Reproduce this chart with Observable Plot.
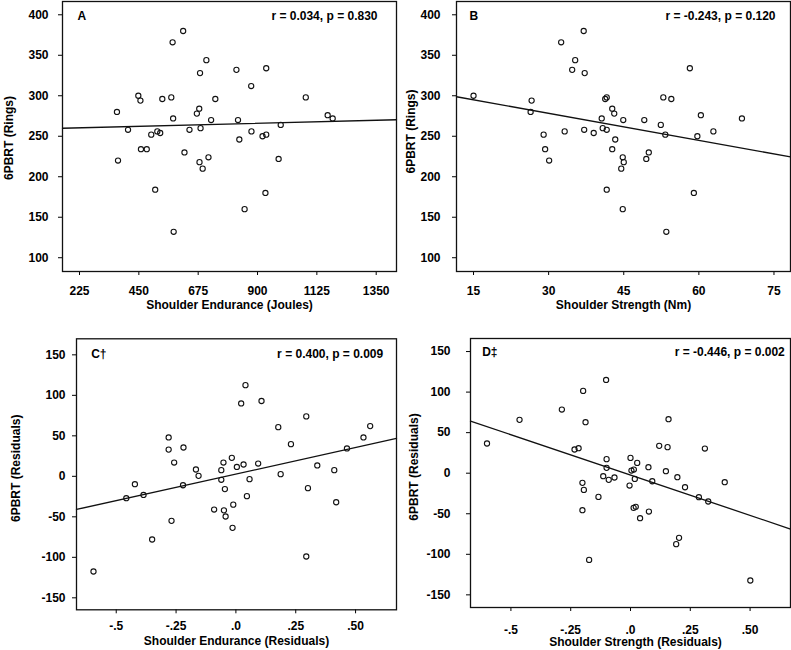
<!DOCTYPE html>
<html>
<head>
<meta charset="utf-8">
<script src="https://cdn.jsdelivr.net/npm/d3@7"></script>
<script src="https://cdn.jsdelivr.net/npm/@observablehq/plot@0.6"></script>
<style>
  html, body { margin: 0; padding: 0; background: white; overflow: hidden; }
  #wrap { position: relative; width: 791px; height: 650px; background: white; }
  #wrap > svg { position: absolute; left: 0; top: 0; }
</style>
</head>
<body>
<div id="wrap"></div>
<script>
// ---- Panel A: Shoulder Endurance (Joules) vs 6PBRT (Rings)
const enduranceJoules = [367,371,409,448,456,458,480,497,512,520,531,539,573,578,580,582,618,623,642,670,679,680,682,684,692,706,714,724,740,820,826,831,851,876,877,919,930,933,933,980,988,1083,1166,1185];
const ringsA          = [280,220,258,300,294,234,234,252,184,256,254,296,298,366,272,132,380,230,258,278,284,218,328,260,210,344,224,270,296,332,270,246,160,312,256,250,180,334,252,222,264,298,276,272];

// ---- Panel B: Shoulder Strength (Nm) vs 6PBRT (Rings)
const strengthNm = [15,26.4,26.6,29,29.3,30.1,32.5,33.2,34.7,35.3,37,37.1,37.2,39,40.6,40.8,41.3,41.6,41.6,41.6,42.7,42.7,43.1,43.3,44.5,44.8,44.8,44.9,45,49.1,49.5,50,52.4,52.9,53.3,53.5,54.5,58.2,59,59.7,60.4,62.9,68.6];
const ringsB     = [300,280,294,252,234,220,366,256,332,344,380,258,328,254,272,260,296,298,258,184,284,234,278,246,210,224,160,270,218,270,222,230,264,298,252,132,296,334,180,250,276,256,272];

// ---- Panel C: Shoulder Endurance (Residuals) vs 6PBRT (Residuals)
const enduranceResid = [-0.595,-0.458,-0.422,-0.386,-0.350,-0.281,-0.281,-0.269,-0.258,-0.221,-0.219,-0.167,-0.156,-0.091,-0.061,-0.061,-0.052,-0.050,-0.046,-0.043,-0.017,-0.014,-0.011,0.004,0.022,0.032,0.040,0.046,0.057,0.093,0.107,0.177,0.187,0.230,0.294,0.294,0.301,0.340,0.411,0.419,0.464,0.533,0.561];
const residC         = [-117.5,-27,-9.7,-23,-78,48,33,-55,17,-11,35.6,8.4,0.6,-41,7.6,-4.3,17,-42,-15.8,-49.6,22.8,-63.6,-35,11.6,90,14.6,112.6,-24.5,-3.5,15.8,93,60.7,2.7,39.7,74,-99,-14.6,13.4,7.6,-32,34.4,48,62];

// ---- Panel D: Shoulder Strength (Residuals) vs 6PBRT (Residuals)
const strengthResid = [-0.600,-0.464,-0.287,-0.234,-0.217,-0.198,-0.201,-0.195,-0.201,-0.188,-0.173,-0.134,-0.114,-0.102,-0.100,-0.100,-0.091,-0.067,-0.004,0.000,0.004,0.014,0.013,0.018,0.022,0.028,0.040,0.075,0.077,0.091,0.120,0.148,0.155,0.159,0.196,0.191,0.203,0.228,0.286,0.311,0.325,0.394,0.501];
const residD        = [36.6,65.8,78.5,29.2,30.8,101.5,-11.9,-20.6,-45.6,62.9,-106.9,-29.2,-3.7,115,17.3,6.6,-8.2,-5.3,-15.2,18.9,3.3,4.5,-42.7,-7.0,-41.5,12.7,-55.5,7.4,-47.3,-9.9,33.7,2.5,32.1,66.6,-4.9,-87.5,-79.7,-17.3,-29.6,30.4,-34.9,-11.1,-132.3];

// ---- Tick values / labels
const ringsTicks      = [100,150,200,250,300,350,400];
const joulesTicks     = [225,450,675,900,1125,1350];
const nmTicks         = [15,30,45,60,75];
const residYTicks     = [-150,-100,-50,0,50,100,150];
const residXTicks     = [-0.5,-0.25,0,0.25,0.5];
const residXLabels    = ["-.5","-.25",".0",".25",".50"];

// ---- Texts
const panelLetters = ["A","B","C\u2020","D\u2021"];
const statTexts    = ["r = 0.034, p = 0.830","r = -0.243, p = 0.120","r = 0.400, p = 0.009","r = -0.446, p = 0.002"];
const xTitles      = ["Shoulder Endurance (Joules)","Shoulder Strength (Nm)","Shoulder Endurance (Residuals)","Shoulder Strength (Residuals)"];
const yTitles      = ["6PBRT (Rings)","6PBRT (Rings)","6PBRT (Residuals)","6PBRT (Residuals)"];

const FONT = "'Liberation Sans', Arial, Helvetica, sans-serif";
const W = 791, H = 650;

function fit(xs, ys) {
  const mx = d3.mean(xs), my = d3.mean(ys);
  let sxy = 0, sxx = 0;
  for (let i = 0; i < xs.length; i++) { sxy += (xs[i]-mx)*(ys[i]-my); sxx += (xs[i]-mx)**2; }
  const b = sxy / sxx;
  return {a: my - b*mx, b};
}

function panel(p) {
  const pts = p.xs.map((x, i) => ({x, y: p.ys[i]}));
  const {a, b} = fit(p.xs, p.ys);
  const lineData = p.xDomain.map(x => ({x, y: a + b*x}));
  return Plot.plot({
    width: W, height: H,
    marginLeft: p.frame[0], marginTop: p.frame[1],
    marginRight: W - p.frame[2], marginBottom: H - p.frame[3],
    style: {fontFamily: FONT, fontSize: "12px", fontWeight: "bold", color: "black", background: "transparent", overflow: "visible"},
    x: {domain: p.xDomain, ticks: p.xTicks, tickFormat: p.xFormat, tickSize: 4, tickPadding: p.xPad, label: null},
    y: {domain: p.yDomain, ticks: p.yTicks, tickFormat: d => String(d), tickSize: 4, tickPadding: p.yPad, label: null},
    marks: [
      Plot.frame({stroke: "#111", strokeWidth: 1.3}),
      Plot.line(lineData, {x: "x", y: "y", stroke: "#111", strokeWidth: 1.3}),
      Plot.dot(pts, {x: "x", y: "y", r: 2.6, stroke: "#111", strokeWidth: 1.1, fill: "none"}),
      Plot.text([p.letter], {frameAnchor: "top-left", textAnchor: "start", lineAnchor: "middle", dx: p.letterOff[0], dy: p.letterOff[1], fontSize: 12, fontWeight: "bold", fill: "black"}),
      Plot.text([p.stat], {frameAnchor: "top-right", textAnchor: "end", lineAnchor: "middle", dx: p.statOff[0], dy: p.statOff[1], fontSize: 12, fontWeight: "bold", fill: "black"}),
      Plot.text([p.xTitle], {frameAnchor: "bottom", textAnchor: "middle", lineAnchor: "middle", dx: p.xTitleOff[0], dy: p.xTitleOff[1], fontSize: 12, fontWeight: "bold", fill: "black"}),
      Plot.text([p.yTitle], {frameAnchor: "left", textAnchor: "middle", lineAnchor: "middle", rotate: -90, dx: p.yTitleOff[0], dy: p.yTitleOff[1], fontSize: 12, fontWeight: "bold", fill: "black"})
    ]
  });
}

const wrap = document.getElementById("wrap");
const plainFmt = d => String(d);
const residFmt = d => residXLabels[residXTicks.indexOf(d)];

const panels = [
  {xs: enduranceJoules, ys: ringsA, frame: [62, 1, 396, 271], xDomain: [160.5, 1427], yDomain: [83, 416.4],
   xTicks: joulesTicks, xFormat: plainFmt, yTicks: ringsTicks, xPad: 11, yPad: 10,
   letter: panelLetters[0], stat: statTexts[0], xTitle: xTitles[0], yTitle: yTitles[0],
   letterOff: [15, 15], statOff: [-19, 14.5], xTitleOff: [0, 33.5], yTitleOff: [-53, 1.5]},
  {xs: strengthNm, ys: ringsB, frame: [456, 1, 790, 271], xDomain: [11.6, 78.3], yDomain: [83, 416.4],
   xTicks: nmTicks, xFormat: plainFmt, yTicks: ringsTicks, xPad: 11, yPad: 12,
   letter: panelLetters[1], stat: statTexts[1], xTitle: xTitles[1], yTitle: yTitles[1],
   letterOff: [13, 15], statOff: [-15, 14.5], xTitleOff: [0, 33.5], yTitleOff: [-45, -5]},
  {xs: enduranceResid, ys: residC, frame: [76, 338.3, 396, 609.3], xDomain: [-0.666, 0.671], yDomain: [-164.8, 169.8],
   xTicks: residXTicks, xFormat: residFmt, yTicks: residYTicks, xPad: 7.5, yPad: 7,
   letter: panelLetters[2], stat: statTexts[2], xTitle: xTitles[2], yTitle: yTitles[2],
   letterOff: [14.7, 15], statOff: [-13.3, 15], xTitleOff: [0, 31.6], yTitleOff: [-60, -6]},
  {xs: strengthResid, ys: residD, frame: [470, 338, 790, 607], xDomain: [-0.669, 0.669], yDomain: [-165.6, 166.1],
   xTicks: residXTicks, xFormat: residFmt, yTicks: residYTicks, xPad: 13.5, yPad: 16,
   letter: panelLetters[3], stat: statTexts[3], xTitle: xTitles[3], yTitle: yTitles[3],
   letterOff: [11.7, 13.7], statOff: [-5.7, 13.7], xTitleOff: [5, 35], yTitleOff: [-56, -6]}
];

for (const p of panels) wrap.appendChild(panel(p));
</script>
</body>
</html>
